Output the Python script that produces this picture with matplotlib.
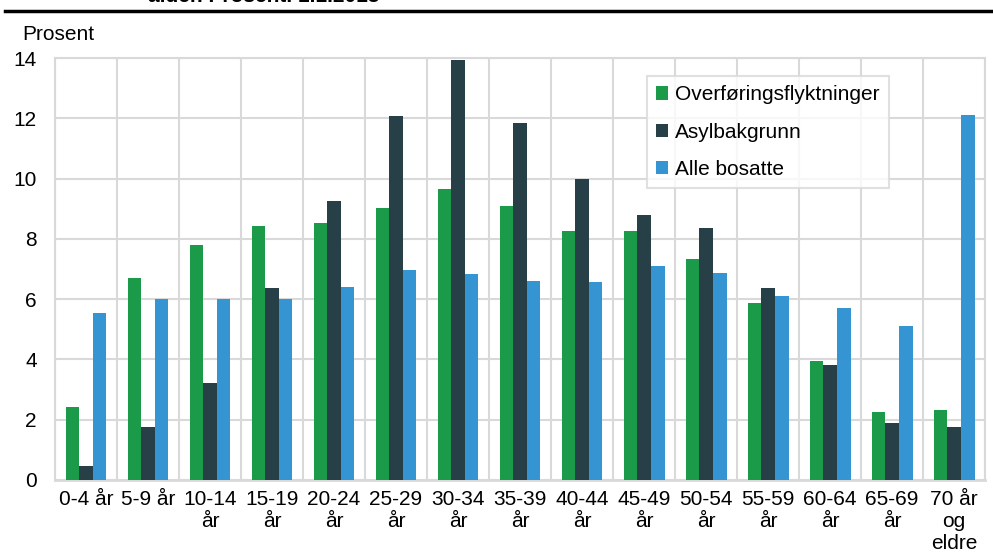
import numpy as np
import matplotlib.pyplot as plt
from matplotlib.lines import Line2D

plt.rcParams['font.family'] = ['Liberation Sans', 'DejaVu Sans']

# Age groups and shares (percent)
categories = ['0-4 år', '5-9 år', '10-14\når', '15-19\når', '20-24\når', '25-29\når',
              '30-34\når', '35-39\når', '40-44\når', '45-49\når', '50-54\når', '55-59\når',
              '60-64\når', '65-69\når', '70 år\nog\neldre']
overforing = [2.43, 6.71, 7.78, 8.43, 8.54, 9.02, 9.65, 9.09, 8.25, 8.25, 7.32, 5.87, 3.96, 2.26, 2.32]
asyl = [0.46, 1.77, 3.21, 6.36, 9.24, 12.08, 13.94, 11.85, 9.98, 8.78, 8.36, 6.37, 3.82, 1.89, 1.77]
alle = [5.53, 6.0, 6.0, 6.0, 6.39, 6.96, 6.84, 6.60, 6.56, 7.09, 6.86, 6.11, 5.70, 5.11, 12.12]
series_names = ['Overføringsflyktninger', 'Asylbakgrunn', 'Alle bosatte']
colors = ['#1b9a4a', '#274047', '#3594d2']

fs = 15

fig = plt.figure(figsize=(9.93, 5.54), dpi=100)
ax = fig.add_axes([0.0554, 0.1336, 0.9366, 0.7617])

x = np.arange(len(categories))
w = 0.22
for i, (vals, name, c) in enumerate(zip([overforing, asyl, alle], series_names, colors)):
    ax.bar(x + (i - 1) * w, vals, width=w, color=c, label=name, zorder=3)

ax.set_xlim(-0.5, len(categories) - 0.5)
ax.set_ylim(0, 14)
ax.set_yticks(np.arange(0, 15, 2))
ax.set_xticks(x)
ax.set_xticklabels(categories, fontsize=fs, linespacing=1.22, va='top')
ax.tick_params(axis='y', labelsize=fs, length=0, pad=13)
ax.tick_params(axis='x', length=0, pad=7)

# grid: horizontal at ticks, vertical at category boundaries
ax.set_xticks(np.arange(-0.5, len(categories), 1), minor=True)
ax.grid(axis='y', color='#d9d9d9', linewidth=1.5, zorder=0)
ax.grid(axis='x', which='minor', color='#d9d9d9', linewidth=1.5, zorder=0)
ax.tick_params(axis='x', which='minor', length=0)
for s in ax.spines.values():
    s.set_color('#d9d9d9')
    s.set_linewidth(1.5)
ax.spines['bottom'].set_linewidth(2)

fig.text(22 / 993, 1 - 35 / 554, 'Prosent', fontsize=fs, va='center', ha='left')

leg = ax.legend(loc='upper left', bbox_to_anchor=(647 / 993, 1 - 76 / 554),
                bbox_transform=fig.transFigure, fontsize=fs, frameon=True,
                fancybox=False, edgecolor='#d9d9d9', handlelength=0.55,
                handleheight=0.6, handletextpad=0.35, labelspacing=0.87,
                borderpad=0.45, borderaxespad=0)
leg.get_frame().set_linewidth(1.5)

# header rule and cut-off title
fig.add_artist(Line2D([5 / 993, 1], [1 - 11 / 554] * 2, color='black', linewidth=2.5))
fig.text(148 / 993, 1 - 6 / 554, 'alder. Prosent. 1.1.2015', fontsize=fs,
         fontweight='bold', va='bottom', ha='left')

fig.savefig('out.png', dpi=100)
